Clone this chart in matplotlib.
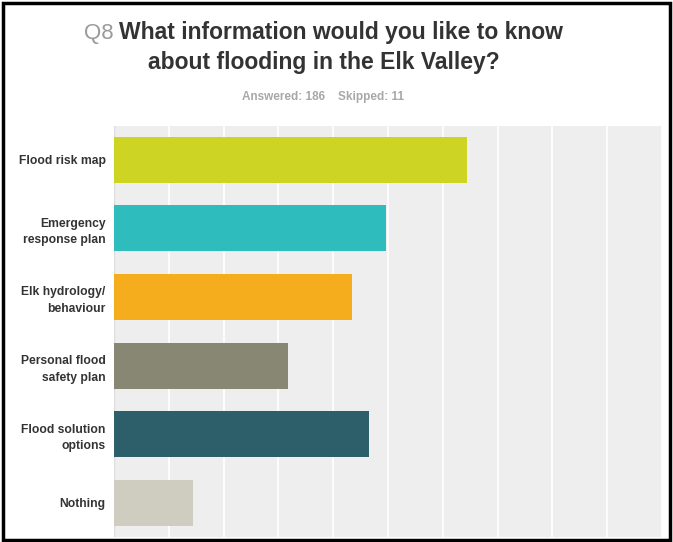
import matplotlib
matplotlib.use("Agg")
import matplotlib.pyplot as plt
from matplotlib.patches import Rectangle

categories = ["Flood risk map", "Emergency\nresponse plan", "Elk hydrology/\nbehaviour",
              "Personal flood\nsafety plan", "Flood solution\noptions", "Nothing"]
values = [64.5, 49.6, 43.5, 31.7, 46.6, 14.5]
colors = ["#cdd424", "#2fbcbd", "#f5ac1d", "#878774", "#2d5f6b", "#cfcdbf"]
x_ticks = [0, 10, 20, 30, 40, 50, 60, 70, 80, 90, 100]

W, H = 673, 542
fig = plt.figure(figsize=(W / 100, H / 100), dpi=100)
fig.patch.set_facecolor("white")

ax = fig.add_axes([114 / W, 1 - 537 / H, (662 - 114) / W, (537 - 125.5) / H])
ax.set_facecolor("#eeeeee")
y = list(range(len(categories)))
ax.barh(y, values, height=0.67, color=colors, zorder=3)
ax.set_xlim(0, 100)
ax.set_ylim(len(categories) - 0.5, -0.5)
ax.set_xticks(x_ticks)
ax.set_xticklabels([])
ax.tick_params(axis="x", length=0)
ax.grid(axis="x", color="white", linewidth=1.2, zorder=1)
ax.set_yticks(y)
ax.set_yticklabels(categories, fontsize=8.7, fontweight="bold", color="#333333",
                   family="Liberation Sans", linespacing=1.5)
ax.tick_params(axis="y", length=0, pad=6)
for s in ax.spines.values():
    s.set_visible(False)
ax.axvline(0, color="#dddddd", linewidth=1, zorder=2)

# Title
fig.text(84 / W, 1 - 33 / H, "Q8", fontsize=16, color="#9a9a9a",
         family="Liberation Sans", ha="left", va="center")
fig.text(119 / W, 1 - 33 / H, "What information would you like to know",
         fontsize=16.5, fontweight="bold", color="#333333", family="Liberation Sans",
         ha="left", va="center")
fig.text(324 / W, 1 - 62 / H, "about flooding in the Elk Valley?",
         fontsize=16.5, fontweight="bold", color="#333333", family="Liberation Sans",
         ha="center", va="center")
fig.text(323 / W, 1 - 97 / H, "Answered: 186    Skipped: 11", fontsize=8.5,
         fontweight="bold", color="#a8a8a8", family="Liberation Sans", ha="center", va="center")

# Frame
fig.patches.append(Rectangle((2.5 / W, 1 - 539.5 / H), (669.5 - 2.5) / W, (539.5 - 3) / H,
                             transform=fig.transFigure, fill=False, edgecolor="black",
                             linewidth=2.5, zorder=10))

fig.savefig("out.png", dpi=100, facecolor="white")
